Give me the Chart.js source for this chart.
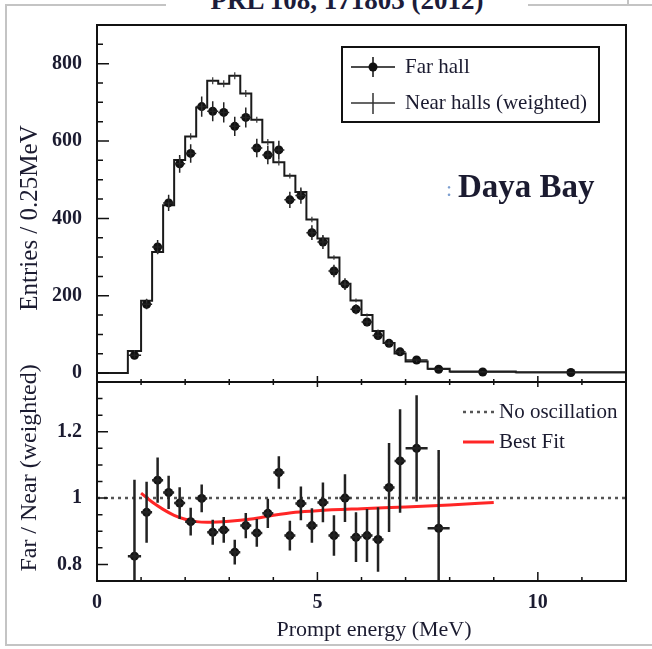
<!DOCTYPE html>
<html>
<head>
<meta charset="utf-8">
<script src="https://cdn.jsdelivr.net/npm/chart.js@4.4.1/dist/chart.umd.min.js"></script>
<style>
  body { margin: 0; background: #fff; }
  #wrap { position: relative; width: 652px; height: 649px; overflow: hidden; }
  canvas { position: absolute; left: 0; }
  #spectrum { top: 0; }
  #ratio { top: 340px; }
  .rule { position: absolute; background: #c4c4c4; }
  #ref { position: absolute; left: 166px; width: 362px; top: -13px; text-align: center;
         font: bold 27px "Liberation Serif", serif; line-height: 27px; color: #1c1c3a; background: #fff; }
</style>
</head>
<body>
<div id="wrap">
  <div class="rule" style="left:5px;top:4px;width:2px;height:642px"></div>
  <div class="rule" style="left:5px;top:4px;width:647px;height:2px"></div>
  <div class="rule" style="left:5px;top:644px;width:647px;height:2px"></div>
  <div class="rule" style="left:627px;top:0;width:2px;height:5px"></div>
  <div id="ref">PRL 108, 171803 (2012)</div>
  <canvas id="spectrum" width="652" height="390"></canvas>
  <canvas id="ratio" width="652" height="309"></canvas>
</div>
<script>
// bin edges of the prompt energy spectrum (MeV)
const energyEdges = [0.7, 1.0, 1.25, 1.5, 1.75, 2.0, 2.25, 2.5, 2.75, 3.0, 3.25, 3.5, 3.75, 4.0, 4.25,
                     4.5, 4.75, 5.0, 5.25, 5.5, 5.75, 6.0, 6.25, 6.5, 6.75, 7.0, 7.5, 8.0, 9.5, 12.0];

// entries / 0.25 MeV
const farHall    = [46, 178, 326, 440, 541, 568, 689, 677, 674, 638, 661, 582, 564, 577, 448,
                    459, 363, 339, 264, 230, 165, 132, 97, 77, 55, 34, 10, 3, 1.5];
const farHallErr = [7, 13, 18, 21, 23, 24, 26, 26, 26, 25, 26, 24, 24, 24, 21,
                    21, 19, 18, 16, 15, 13, 11, 10, 9, 7, 4, 2, 1, 0.5];
const nearHalls    = [57, 187, 313, 434, 551, 612, 687, 756, 748, 769, 723, 655, 597, 545, 510,
                      468, 397, 348, 299, 231, 188, 150, 109, 78, 51, 30, 11, 4, 2];
const nearHallsErr = [3, 5, 6, 7, 8, 8, 9, 9, 9, 9, 9, 8, 8, 8, 7,
                      7, 7, 6, 6, 5, 5, 4, 4, 3, 3, 2, 1, 0.5, 0.3];

// far / near (weighted), first 27 bins (0.7 - 8 MeV)
const farNear    = [0.825, 0.957, 1.054, 1.017, 0.985, 0.929, 0.999, 0.897, 0.904, 0.837, 0.917, 0.895, 0.954, 1.077,
                    0.887, 0.984, 0.917, 0.987, 0.887, 1.0, 0.882, 0.887, 0.875, 1.032, 1.112, 1.15, 0.909];
const farNearErr = [0.23, 0.092, 0.068, 0.05, 0.048, 0.042, 0.042, 0.038, 0.039, 0.037, 0.038, 0.042, 0.044, 0.049,
                    0.045, 0.051, 0.052, 0.06, 0.061, 0.072, 0.075, 0.08, 0.097, 0.134, 0.156, 0.16, 0.236];

// best fit curve
const fitEnergy = [1.0, 1.25, 1.5, 1.75, 2.0, 2.25, 2.5, 3.0, 3.5, 4.0, 4.5, 5.0, 6.0, 7.0, 8.0, 9.0];
const fitRatio  = [1.015, 0.988, 0.966, 0.948, 0.936, 0.929, 0.927, 0.930, 0.937, 0.948, 0.957, 0.962, 0.968, 0.973, 0.979, 0.987];

const noOscEnergy = [0, 12];
const noOscRatio  = [1, 1];

const entriesTicks = [0, 200, 400, 600, 800];
const ratioTicks   = [0.8, 1, 1.2];
const energyTicks  = [0, 5, 10];

const INK = '#1b1b30';
const SERIF = "'Liberation Serif', 'Times New Roman', serif";
Chart.defaults.font.family = SERIF;
Chart.defaults.color = INK;

const centers = energyEdges.slice(0, -1).map((lo, i) => (lo + energyEdges[i + 1]) / 2);
const halfWidths = energyEdges.slice(0, -1).map((lo, i) => (energyEdges[i + 1] - lo) / 2);

const farPts = farHall.map((v, i) => ({x: centers[i], y: v}));
const nearPts = nearHalls.map((v, i) => ({x: centers[i], y: v}));
// histogram outline: one point per bin's left edge, stepped 'before' runs flat at that value
const nearStep = [{x: 0, y: 0}]
  .concat(nearHalls.map((v, i) => ({x: energyEdges[i], y: v})))
  .concat([{x: energyEdges[energyEdges.length - 1], y: nearHalls[nearHalls.length - 1]}]);
const ratioPts = farNear.map((v, i) => ({x: centers[i], y: v}));
const fitPts = fitEnergy.map((e, i) => ({x: e, y: fitRatio[i]}));
const noOscPts = noOscEnergy.map((e, i) => ({x: e, y: noOscRatio[i]}));

// vertical / horizontal error bars from dataset.errY / dataset.errX
const errorBars = {
  id: 'errorBars',
  afterDatasetsDraw(chart) {
    const {ctx, chartArea: a, scales: {x, y}} = chart;
    ctx.save();
    ctx.beginPath();
    ctx.rect(a.left, a.top, a.width, a.height);
    ctx.clip();
    chart.data.datasets.forEach(ds => {
      if (!ds.errY) return;
      ctx.strokeStyle = ds.errColor;
      ctx.lineWidth = ds.errWidth;
      ctx.beginPath();
      ds.data.forEach((p, i) => {
        const px = x.getPixelForValue(p.x), py = y.getPixelForValue(p.y);
        ctx.moveTo(px, y.getPixelForValue(p.y - ds.errY[i]));
        ctx.lineTo(px, y.getPixelForValue(p.y + ds.errY[i]));
        if (ds.errX) {
          ctx.moveTo(x.getPixelForValue(p.x - ds.errX[i]), py);
          ctx.lineTo(x.getPixelForValue(p.x + ds.errX[i]), py);
        }
      });
      ctx.stroke();
    });
    ctx.restore();
  }
};

function steps(from, to, step) {
  const out = [];
  for (let v = from; v <= to + 1e-9; v += step) out.push(Math.round(v * 1000) / 1000);
  return out;
}

// keep the plot area exactly where the layout puts it
function fixBox(width, height) {
  return s => {
    if (width) s.width = width;
    if (height) s.height = height;
    s.paddingTop = s.paddingBottom = s.paddingLeft = s.paddingRight = 0;
  };
}

// ROOT style frame with inward ticks
const frameTicks = {
  id: 'frameTicks',
  afterDraw(chart, args, o) {
    const {ctx, chartArea: a, scales: {x, y}} = chart;
    ctx.save();
    ctx.strokeStyle = '#111';
    ctx.lineWidth = 1.5;
    ctx.beginPath();
    const yTick = (v, len) => { const p = y.getPixelForValue(v); if (p > a.top + 1 && p < a.bottom - 1) { ctx.moveTo(a.left, p); ctx.lineTo(a.left + len, p); } };
    const xTick = (v, len, edge, dir) => { const p = x.getPixelForValue(v); if (p > a.left + 1 && p < a.right - 1) { ctx.moveTo(p, edge); ctx.lineTo(p, edge + dir * len); } };
    o.yMinor.forEach(v => yTick(v, o.yMinorLen));
    o.yMajor.forEach(v => yTick(v, o.yMajorLen));
    steps(0, 12, 1).forEach(v => {
      const major = v % 5 === 0;
      xTick(v, major ? o.xMajorLen : o.xMinorLen, a.bottom, -1);
      if (o.topTicks) xTick(v, major ? o.topMajorLen : o.topMinorLen, a.top, 1);
    });
    ctx.stroke();
    ctx.lineWidth = 2;
    ctx.strokeRect(a.left, a.top, a.width, a.height);
    ctx.restore();
  }
};

function text(ctx, str, x, y, font, opts = {}) {
  ctx.save();
  ctx.font = font;
  ctx.fillStyle = opts.color || INK;
  ctx.textAlign = opts.align || 'left';
  ctx.textBaseline = opts.baseline || 'middle';
  ctx.translate(x, y);
  if (opts.rotate) ctx.rotate(opts.rotate);
  ctx.fillText(str, 0, 0);
  ctx.restore();
}

const spectrumDecor = {
  id: 'spectrumDecor',
  afterDraw(chart) {
    const ctx = chart.ctx;
    text(ctx, 'Entries / 0.25MeV', 30, 218, '25px ' + SERIF, {align: 'center', rotate: -Math.PI / 2});

    // legend
    ctx.save();
    ctx.strokeStyle = '#111';
    ctx.lineWidth = 2;
    ctx.strokeRect(342, 47, 257, 75);
    ctx.lineWidth = 1.5;
    ctx.beginPath();
    ctx.moveTo(351, 67); ctx.lineTo(395, 67);
    ctx.moveTo(373, 57); ctx.lineTo(373, 77);
    ctx.stroke();
    ctx.fillStyle = '#111';
    ctx.beginPath();
    ctx.arc(373, 67, 4.5, 0, Math.PI * 2);
    ctx.fill();
    ctx.strokeStyle = '#333';
    ctx.beginPath();
    ctx.moveTo(351, 103); ctx.lineTo(395, 103);
    ctx.moveTo(373, 93); ctx.lineTo(373, 114);
    ctx.stroke();
    ctx.restore();
    text(ctx, 'Far hall', 405, 67, '21px ' + SERIF);
    text(ctx, 'Near halls (weighted)', 405, 103, '21px ' + SERIF);

    text(ctx, ':', 446, 196, '22px ' + SERIF, {baseline: 'alphabetic', color: '#7d9fd0'});
    text(ctx, 'Daya Bay', 458, 197, 'bold 33px ' + SERIF, {baseline: 'alphabetic'});
  }
};

const ratioDecor = {
  id: 'ratioDecor',
  afterDraw(chart) {
    const ctx = chart.ctx;
    text(ctx, 'Far / Near (weighted)', 30, 128, '24px ' + SERIF, {align: 'center', rotate: -Math.PI / 2});
    text(ctx, 'Prompt energy (MeV)', 374, 290, '22px ' + SERIF, {align: 'center'});

    ctx.save();
    ctx.lineWidth = 2.5;
    ctx.strokeStyle = '#555';
    ctx.setLineDash([3, 4]);
    ctx.beginPath(); ctx.moveTo(463, 72); ctx.lineTo(494, 72); ctx.stroke();
    ctx.setLineDash([]);
    ctx.strokeStyle = '#ff2626';
    ctx.lineWidth = 3;
    ctx.beginPath(); ctx.moveTo(463, 102); ctx.lineTo(494, 102); ctx.stroke();
    ctx.restore();
    text(ctx, 'No oscillation', 499, 72, '21px ' + SERIF);
    text(ctx, 'Best Fit', 499, 102, '21px ' + SERIF);
  }
};

const tickFont = {size: 20, weight: 'bold'};

new Chart(document.getElementById('spectrum'), {
  type: 'line',
  data: {
    datasets: [
      {label: 'Far hall', data: farPts, showLine: false, pointRadius: 4.5, pointBorderWidth: 0,
       pointBackgroundColor: '#111', errY: farHallErr, errX: halfWidths, errColor: '#222', errWidth: 1.5, order: 0},
      {label: 'Near halls (weighted)', data: nearStep, stepped: 'before', borderColor: '#1a1a1a', borderWidth: 2,
       pointRadius: 0, fill: false, order: 1},
      {label: 'near errors', data: nearPts, showLine: false, pointRadius: 0,
       errY: nearHallsErr, errColor: '#333', errWidth: 1.2, order: 2}
    ]
  },
  options: {
    responsive: false,
    animation: false,
    layout: {padding: {left: 0, top: 25, right: 26, bottom: 8}},
    scales: {
      x: {type: 'linear', min: 0, max: 12, display: false},
      y: {
        min: -23, max: 900,
        grid: {display: false, drawTicks: false},
        border: {display: false},
        afterFit: fixBox(97, 0),
        afterBuildTicks(s) { s.ticks = entriesTicks.map(v => ({value: v})); },
        ticks: {padding: 15, font: tickFont, color: INK, callback: v => String(v)}
      }
    },
    plugins: {
      legend: {display: false},
      tooltip: {enabled: false},
      frameTicks: {
        yMajor: entriesTicks, yMinor: steps(0, 900, 50), yMajorLen: 12, yMinorLen: 6,
        xMajorLen: 6, xMinorLen: 3, topTicks: false
      }
    }
  },
  plugins: [errorBars, frameTicks, spectrumDecor]
});

new Chart(document.getElementById('ratio'), {
  type: 'line',
  data: {
    datasets: [
      {label: 'Far / Near', data: ratioPts, showLine: false, pointRadius: 4.5, pointBorderWidth: 0,
       pointBackgroundColor: '#111', errY: farNearErr, errX: halfWidths, errColor: '#222', errWidth: 2.5, order: 0},
      {label: 'Best Fit', data: fitPts, borderColor: '#ff2626', borderWidth: 3, pointRadius: 0,
       cubicInterpolationMode: 'monotone', fill: false, order: 1},
      {label: 'No oscillation', data: noOscPts, borderColor: '#555', borderWidth: 2.5, borderDash: [3, 4],
       pointRadius: 0, fill: false, order: 2}
    ]
  },
  options: {
    responsive: false,
    animation: false,
    layout: {padding: {left: 0, top: 42, right: 26, bottom: 0}},
    scales: {
      x: {
        type: 'linear', min: 0, max: 12,
        grid: {display: false, drawTicks: false},
        border: {display: false},
        afterFit: fixBox(0, 68),
        afterBuildTicks(s) { s.ticks = energyTicks.map(v => ({value: v})); },
        ticks: {padding: 10, font: tickFont, color: INK, maxRotation: 0, autoSkip: false, callback: v => String(v)}
      },
      y: {
        min: 0.75, max: 1.35,
        grid: {display: false, drawTicks: false},
        border: {display: false},
        afterFit: fixBox(97, 0),
        afterBuildTicks(s) { s.ticks = ratioTicks.map(v => ({value: v})); },
        ticks: {padding: 15, font: tickFont, color: INK, callback: v => String(v)}
      }
    },
    plugins: {
      legend: {display: false},
      tooltip: {enabled: false},
      frameTicks: {
        yMajor: ratioTicks, yMinor: steps(0.75, 1.35, 0.05), yMajorLen: 11, yMinorLen: 5.5,
        xMajorLen: 9, xMinorLen: 4, topTicks: true, topMajorLen: 5, topMinorLen: 3
      }
    }
  },
  plugins: [errorBars, frameTicks, ratioDecor]
});
</script>
</body>
</html>
